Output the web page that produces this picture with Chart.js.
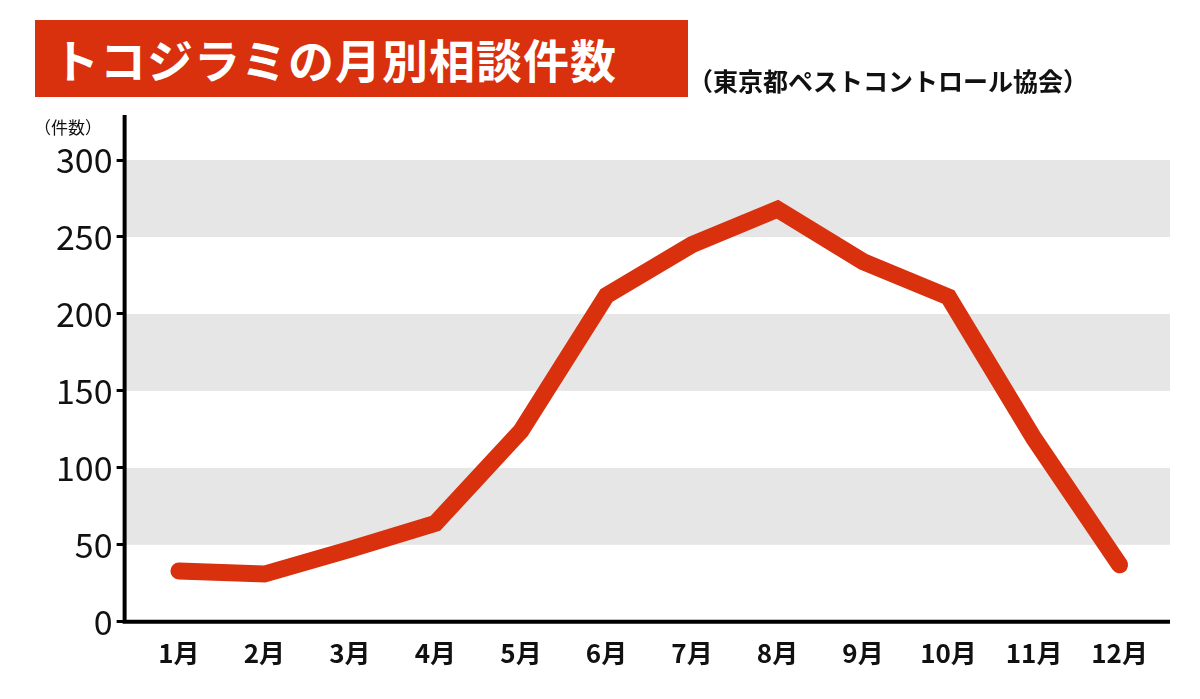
<!DOCTYPE html>
<html><head><meta charset="utf-8">
<script src="https://cdn.jsdelivr.net/npm/chart.js@4"></script>
<style>
body{margin:0;background:#fff;width:1200px;height:699px;overflow:hidden;font-family:"Noto Sans CJK JP",sans-serif}
#title{position:absolute;left:35px;top:20px;width:653px;height:77px;background:#d9300e;color:#fff;font-weight:bold;font-size:46px;line-height:77px;padding-left:18px;box-sizing:border-box;letter-spacing:1px}
#src{position:absolute;left:688px;top:62px;font-weight:bold;font-size:25px;color:#111}
#unit{position:absolute;left:34px;top:114px;font-size:17px;color:#111}
#wrap{position:absolute;left:0;top:0;width:1200px;height:699px}
</style></head><body>
<div id="wrap"><canvas id="c" width="1200" height="699"></canvas></div>
<div id="title">トコジラミの月別相談件数</div>
<div id="src">（東京都ペストコントロール協会）</div>
<div id="unit">（件数）</div>
<script>
const months = ['1月','2月','3月','4月','5月','6月','7月','8月','9月','10月','11月','12月'];
const counts = [33, 31, 47, 64, 124, 212, 245, 268, 234, 211, 119, 37];
const yTicks = [0, 50, 100, 150, 200, 250, 300];
const grayBands = [[50,100],[150,200],[250,300]];

const bands = {
  id: 'bands',
  beforeDatasetsDraw(chart) {
    const {ctx, chartArea: a, scales: {y}} = chart;
    ctx.save();
    ctx.fillStyle = '#e6e6e6';
    grayBands.forEach(b => {
      const t = y.getPixelForValue(b[1]), bt = y.getPixelForValue(b[0]);
      ctx.fillRect(a.left, t, a.right - a.left, bt - t);
    });
    ctx.strokeStyle = '#000';
    ctx.lineWidth = 4;
    ctx.beginPath();
    ctx.moveTo(a.left, 115);
    ctx.lineTo(a.left, a.bottom);
    ctx.lineTo(a.right, a.bottom);
    ctx.stroke();
    ctx.restore();
  }
};

new Chart(document.getElementById('c'), {
  type: 'line',
  data: {
    datasets: [{
      data: counts.map((v, i) => ({x: i + 1, y: v})),
      borderColor: '#d9300e',
      borderWidth: 17,
      pointRadius: 0,
      borderCapStyle: 'round',
      borderJoinStyle: 'miter',
      tension: 0
    }]
  },
  options: {
    responsive: false,
    animation: false,
    devicePixelRatio: 1,
    layout: {padding: {top: 160, right: 30, bottom: 22, left: 52}},
    plugins: {legend: {display: false}, tooltip: {enabled: false}},
    scales: {
      x: {
        type: 'linear', min: 0.365, max: 12.59,
        afterBuildTicks: s => { s.ticks = months.map((m, i) => ({value: i + 1})); },
        ticks: {callback: (v) => months[v - 1], color: '#111', font: {size: 26, weight: 'bold', family: 'Noto Sans CJK JP'}, padding: 8, maxRotation: 0, autoSkip: false},
        grid: {display: false},
        border: {display: false}
      },
      y: {
        min: 0, max: 300,
        afterBuildTicks: s => { s.ticks = yTicks.map(v => ({value: v})); },
        ticks: {color: '#111', font: {size: 34, family: 'Noto Sans CJK JP'}, padding: 4},
        grid: {drawOnChartArea: false, tickLength: 8, color: '#000', lineWidth: 3},
        border: {display: false}
      }
    }
  },
  plugins: [bands]
});
</script>
</body></html>
